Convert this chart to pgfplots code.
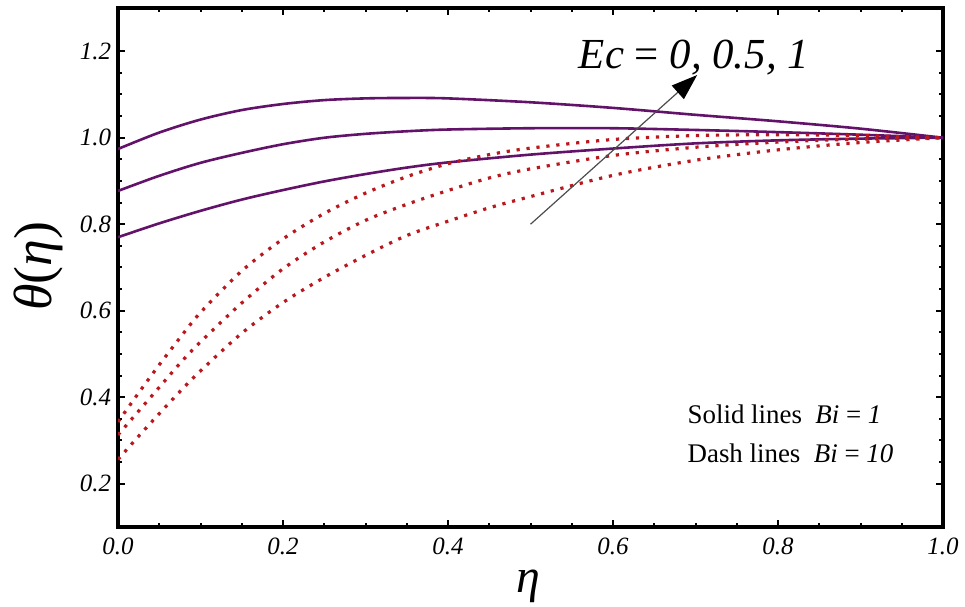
\documentclass[border=0pt]{standalone}
\usepackage{fontspec}
\setmainfont{Liberation Serif}
\usepackage{pgfplots}
\pgfplotsset{compat=1.18}
\usetikzlibrary{arrows.meta}

\definecolor{solidpurple}{RGB}{98,18,104}
\definecolor{dotred}{RGB}{185,25,30}

% Bi = 1 (solid), Ec = 0, 0.5, 1
\pgfplotstableread{
x y
0    0.770
0.05 0.802
0.1  0.831
0.15 0.857
0.2  0.879
0.25 0.899
0.3  0.916
0.35 0.931
0.4  0.943
0.5  0.961
0.6  0.975
0.7  0.987
0.8  0.994
0.9  0.998
1.0  1.000
}\solidA
\pgfplotstableread{
x y
0    0.877
0.05 0.912
0.1  0.942
0.15 0.965
0.2  0.985
0.25 1.000
0.3  1.009
0.35 1.015
0.4  1.019
0.5  1.022
0.6  1.022
0.7  1.018
0.8  1.013
0.9  1.007
1.0  1.000
}\solidB
\pgfplotstableread{
x y
0    0.974
0.05 1.012
0.1  1.042
0.15 1.064
0.2  1.078
0.25 1.087
0.3  1.091
0.35 1.092
0.4  1.091
0.5  1.082
0.6  1.069
0.7  1.053
0.8  1.038
0.9  1.021
1.0  1.000
}\solidC
% Bi = 10 (dotted)
\pgfplotstableread{
x y
0     0.256
0.025 0.310
0.05  0.362
0.075 0.413
0.1   0.461
0.15  0.548
0.2   0.619
0.25  0.677
0.3   0.728
0.35  0.774
0.4   0.807
0.45  0.838
0.5   0.864
0.6   0.913
0.7   0.948
0.8   0.972
0.9   0.989
1.0   1.000
}\dotA
\pgfplotstableread{
x y
0     0.313
0.025 0.368
0.05  0.423
0.075 0.478
0.1   0.528
0.15  0.618
0.2   0.697
0.25  0.759
0.3   0.809
0.35  0.846
0.4   0.878
0.45  0.907
0.5   0.928
0.6   0.959
0.7   0.978
0.8   0.990
0.9   0.997
1.0   1.000
}\dotB
\pgfplotstableread{
x y
0     0.343
0.025 0.410
0.05  0.475
0.075 0.537
0.1   0.596
0.15  0.692
0.2   0.766
0.25  0.825
0.3   0.872
0.35  0.910
0.4   0.940
0.45  0.961
0.5   0.976
0.6   0.996
0.7   1.005
0.8   1.007
0.9   1.005
1.0   1.000
}\dotC

\begin{document}
\begin{tikzpicture}
\begin{axis}[
  at={(0,0)}, anchor=south west,
  scale only axis, width=412.5bp, height=259.5bp,
  xmin=0, xmax=1, ymin=0.1, ymax=1.3,
  xtick={0,0.2,...,1.0}, ytick={0.2,0.4,...,1.2},
  minor tick num=3,
  tick align=inside,
  major tick length=3.5bp, minor tick length=2bp,
  every tick/.style={black, line width=1bp},
  axis line style={line width=1.6bp},
  /pgf/number format/.cd, fixed, fixed zerofill, precision=1, assume math mode=true,
  /pgfplots/.cd,
  tick label style={font=\itshape\fontsize{12.5}{14}\selectfont},
  xticklabel style={yshift=-2bp},
  xlabel={\fontsize{24}{28}\selectfont\textit{η}},
  xlabel style={at={(axis description cs:0.498,0)}, anchor=center, yshift=-29.5bp},
  ylabel={\fontsize{27}{30}\selectfont\textit{θ}(\textit{η})},
  ylabel style={at={([xshift=-40bp]axis description cs:0,0.502)}, anchor=center},
]
\addplot[solidpurple, line width=1.3bp, smooth] table {\solidA};
\addplot[solidpurple, line width=1.3bp, smooth] table {\solidB};
\addplot[solidpurple, line width=1.3bp, smooth] table {\solidC};
\addplot[dotred, line width=1.6bp, smooth, dash pattern=on 1.6bp off 3.4bp] table {\dotA};
\addplot[dotred, line width=1.6bp, smooth, dash pattern=on 1.6bp off 3.4bp] table {\dotB};
\addplot[dotred, line width=1.6bp, smooth, dash pattern=on 1.6bp off 3.4bp] table {\dotC};

\draw[black!70, line width=0.6bp, -{Triangle[length=13bp,width=9bp,black]}]
  (axis cs:0.5,0.8) -- (axis cs:0.702,1.145);
\node[anchor=base, inner sep=0pt, font=\fontsize{21.5}{24}\selectfont]
  at (axis cs:0.698,1.161) {\textit{Ec} = \textit{0, 0.5, 1}};
\node[anchor=base west, inner sep=0pt, font=\fontsize{13.5}{16}\selectfont]
  at (axis cs:0.69,0.340) {Solid lines\ \ \textit{Bi} = \textit{1}};
\node[anchor=base west, inner sep=0pt, font=\fontsize{13.5}{16}\selectfont]
  at (axis cs:0.69,0.250) {Dash lines\ \ \textit{Bi} = \textit{10}};
\end{axis}
\pgfresetboundingbox
\path[use as bounding box] (-59bp,-40bp) rectangle (423.5bp,263.5bp);
\end{tikzpicture}
\end{document}
